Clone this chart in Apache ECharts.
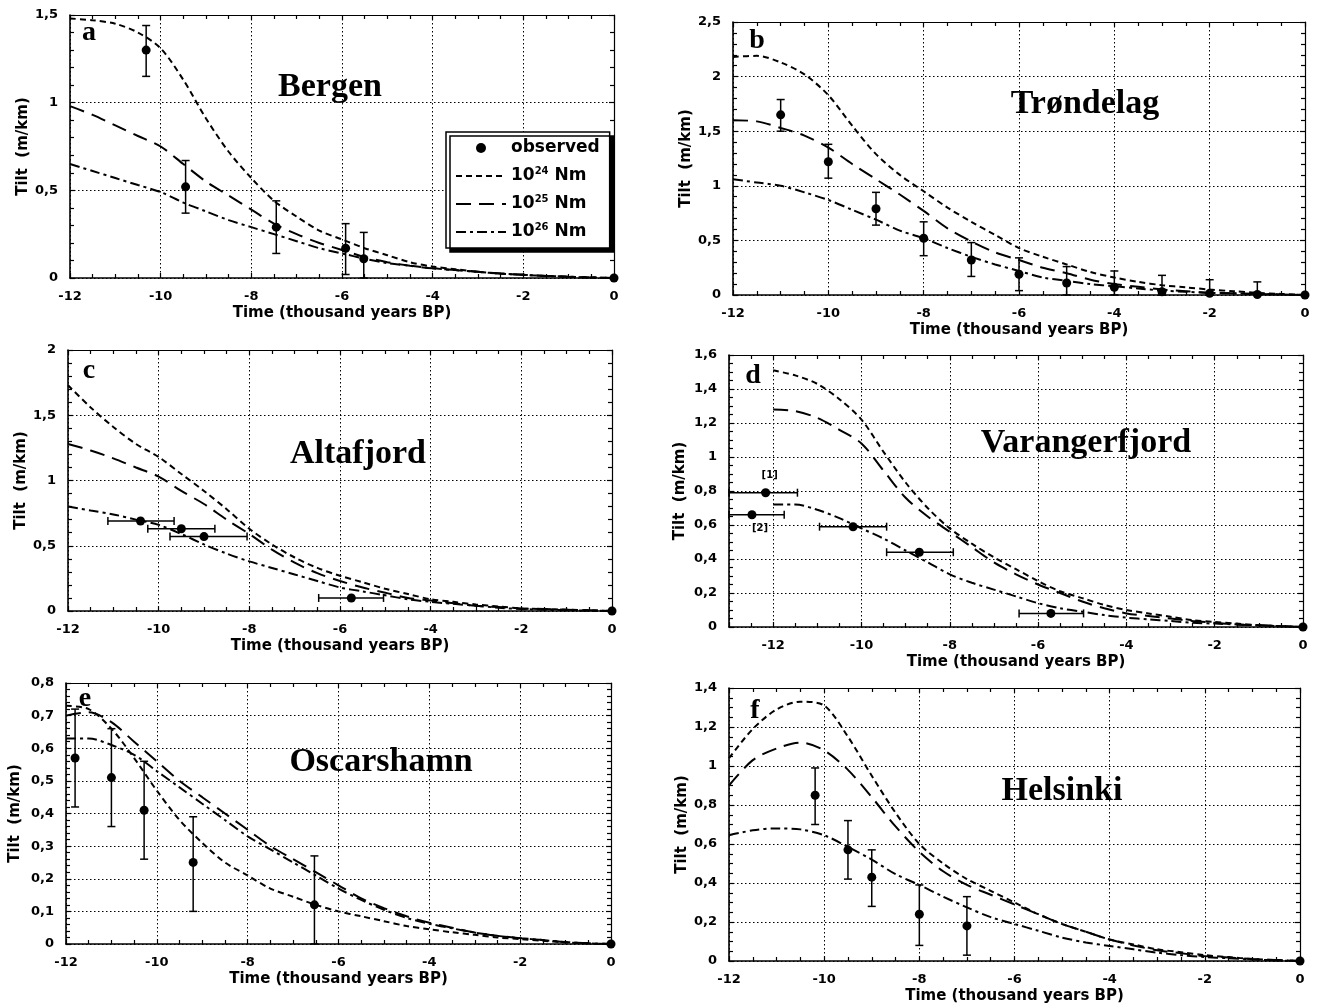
<!DOCTYPE html>
<html>
<head>
<meta charset="utf-8">
<title>Shoreline tilt: observed vs. model lithosphere rigidity</title>
<script src="https://cdn.jsdelivr.net/npm/echarts@6/dist/echarts.min.js"></script>
<style>
  html, body { margin: 0; padding: 0; background: #fff; }
  #chart { width: 1318px; height: 1008px; }
</style>
</head>
<body>
<div id="chart"></div>
<script>
// Model output sampled every 500 years (time in thousand years BP)
const TIME = [-12, -11.5, -11, -10.5, -10, -9.5, -9, -8.5, -8, -7.5, -7, -6.5, -6,
              -5.5, -5, -4.5, -4, -3.5, -3, -2.5, -2, -1.5, -1, -0.5, 0];

// Predicted tilt (m/km) for flexural rigidities 10^24, 10^25, 10^26 Nm
const BERGEN_24 = [1.48,1.47,1.45,1.40,1.31,1.13,0.91,0.72,0.57,0.44,0.35,0.27,0.22,0.17,0.13,0.09,0.065,0.05,0.035,0.025,0.018,0.012,0.007,0.003,0];
const BERGEN_25 = [0.98,0.93,0.87,0.81,0.75,0.65,0.55,0.47,0.39,0.31,0.25,0.20,0.16,0.12,0.09,0.07,0.055,0.045,0.035,0.025,0.018,0.012,0.007,0.003,0];
const BERGEN_26 = [0.65,0.61,0.57,0.53,0.49,0.43,0.38,0.33,0.29,0.25,0.21,0.17,0.14,0.11,0.085,0.07,0.055,0.045,0.035,0.025,0.018,0.012,0.007,0.003,0];

const TRONDELAG_24 = [2.18,2.19,2.13,2.02,1.83,1.55,1.29,1.10,0.95,0.80,0.67,0.55,0.43,0.35,0.28,0.21,0.16,0.12,0.09,0.07,0.05,0.035,0.02,0.01,0];
const TRONDELAG_25 = [1.60,1.59,1.53,1.46,1.35,1.20,1.06,0.92,0.77,0.61,0.49,0.39,0.32,0.25,0.20,0.14,0.10,0.075,0.05,0.035,0.02,0.015,0.01,0.005,0];
const TRONDELAG_26 = [1.06,1.03,1.00,0.94,0.87,0.78,0.69,0.59,0.52,0.43,0.35,0.28,0.22,0.16,0.13,0.10,0.08,0.06,0.04,0.03,0.02,0.015,0.01,0.005,0];

const ALTA_24 = [1.73,1.56,1.41,1.28,1.18,1.05,0.92,0.78,0.63,0.51,0.41,0.33,0.27,0.22,0.17,0.13,0.09,0.07,0.05,0.035,0.02,0.015,0.01,0.005,0];
const ALTA_25 = [1.28,1.23,1.17,1.10,1.03,0.92,0.82,0.70,0.59,0.47,0.37,0.29,0.23,0.18,0.14,0.10,0.08,0.06,0.04,0.03,0.02,0.015,0.01,0.005,0];
const ALTA_26 = [0.80,0.77,0.74,0.70,0.66,0.59,0.51,0.44,0.38,0.33,0.28,0.23,0.18,0.15,0.12,0.09,0.07,0.055,0.04,0.025,0.015,0.01,0.005,0.003,0];

const VARANGER_24 = [1.51,1.48,1.43,1.34,1.22,1.03,0.85,0.70,0.58,0.49,0.41,0.34,0.27,0.21,0.17,0.13,0.10,0.08,0.06,0.04,0.03,0.02,0.01,0.005,0];
const VARANGER_25 = [1.28,1.27,1.23,1.16,1.08,0.92,0.76,0.65,0.56,0.47,0.38,0.31,0.25,0.20,0.15,0.11,0.08,0.065,0.05,0.035,0.025,0.015,0.01,0.005,0];
const VARANGER_26 = [0.72,0.72,0.69,0.64,0.58,0.52,0.45,0.38,0.31,0.26,0.22,0.18,0.14,0.11,0.09,0.07,0.055,0.045,0.035,0.025,0.02,0.015,0.01,0.005,0];

const OSCARSHAMN_24 = [0.73,0.72,0.66,0.57,0.47,0.38,0.31,0.25,0.21,0.17,0.145,0.12,0.10,0.085,0.07,0.055,0.045,0.036,0.028,0.02,0.015,0.01,0.005,0.002,0];
const OSCARSHAMN_25 = [0.70,0.71,0.68,0.62,0.56,0.50,0.45,0.40,0.35,0.30,0.26,0.22,0.18,0.14,0.11,0.085,0.065,0.05,0.035,0.025,0.018,0.012,0.006,0.002,0];
const OSCARSHAMN_26 = [0.63,0.63,0.61,0.58,0.53,0.48,0.43,0.38,0.33,0.29,0.25,0.21,0.17,0.135,0.105,0.08,0.062,0.048,0.035,0.025,0.018,0.012,0.006,0.002,0];

const HELSINKI_24 = [1.04,1.19,1.29,1.33,1.31,1.15,0.95,0.76,0.60,0.50,0.42,0.36,0.30,0.24,0.19,0.15,0.11,0.085,0.06,0.045,0.03,0.02,0.01,0.005,0];
const HELSINKI_25 = [0.90,1.03,1.09,1.12,1.08,0.98,0.84,0.69,0.56,0.46,0.39,0.34,0.29,0.24,0.19,0.15,0.11,0.08,0.055,0.04,0.025,0.018,0.01,0.005,0];
const HELSINKI_26 = [0.645,0.67,0.68,0.675,0.645,0.585,0.52,0.445,0.39,0.33,0.275,0.225,0.19,0.155,0.12,0.095,0.077,0.06,0.043,0.03,0.02,0.014,0.008,0.003,0];

// Observed tilt: [time, tilt, low, high] — low/high are the tilt range (vertical bars)
const BERGEN_OBS = [[-10.32,1.30,1.15,1.44],[-9.45,0.52,0.37,0.67],[-7.45,0.29,0.14,0.44],[-5.92,0.17,0.02,0.31],[-5.52,0.11,0,0.26]];
const TRONDELAG_OBS = [[-11,1.65,1.50,1.79],[-10,1.22,1.07,1.38],[-9,0.79,0.64,0.94],[-8,0.52,0.36,0.67],[-7,0.32,0.17,0.48],
                       [-6,0.19,0.04,0.34],[-5,0.11,0,0.26],[-4,0.07,0,0.22],[-3,0.03,0,0.18],[-2,0.015,0,0.14],[-1,0.005,0,0.12]];
const OSCARSHAMN_OBS = [[-11.8,0.57,0.42,0.72],[-11.0,0.51,0.36,0.66],[-10.28,0.41,0.26,0.56],[-9.2,0.25,0.10,0.39],[-6.53,0.12,0,0.27]];
const HELSINKI_OBS = [[-10.19,0.85,0.70,0.99],[-9.5,0.57,0.42,0.72],[-9.0,0.43,0.28,0.57],[-8.0,0.24,0.08,0.39],[-7.0,0.18,0.03,0.33]];
// Observed tilt with age uncertainty: [time, tilt, earliest, latest] (horizontal bars)
const ALTA_OBS = [[-10.4,0.69,-11.12,-9.66],[-9.5,0.63,-10.24,-8.76],[-9.0,0.57,-9.75,-8.05],[-5.75,0.10,-6.47,-5.04]];
const VARANGER_OBS = [[-12.17,0.79,-13.0,-11.45],[-12.48,0.66,-13.0,-11.75],[-10.19,0.59,-10.95,-9.43],[-8.69,0.44,-9.43,-7.92],[-5.71,0.08,-6.43,-4.97]];
// Present day: tilt relative to today is zero
const PRESENT = [0, 0];
// Shoreline labels in Varangerfjord
const VARANGER_TAGS = ['[1]', '[2]'];

const MODEL_NAMES = ['10^24 Nm', '10^25 Nm', '10^26 Nm'];
const OBS_NAME = 'observed';

const SANS = '"DejaVu Sans", "Liberation Sans", Arial, sans-serif';
const SERIF = '"Liberation Serif", "Times New Roman", serif';
const DASHES = [[6, 4], [15, 8], [10, 4, 3, 4]];

// Panel layout (pixel boxes) and references to the data above
const panels = [
  { letter: 'a', site: 'Bergen', curves: [BERGEN_24, BERGEN_25, BERGEN_26], obs: BERGEN_OBS, bars: 'v',
    xMin: -12, yMax: 1.5, yStep: 0.5, yMinor: 5, box: [70, 15, 544, 263], yGap: 35,
    letterAt: [89, 33], siteAt: [330, 87] },
  { letter: 'b', site: 'Trøndelag', curves: [TRONDELAG_24, TRONDELAG_25, TRONDELAG_26], obs: TRONDELAG_OBS, bars: 'v',
    xMin: -12, yMax: 2.5, yStep: 0.5, yMinor: 5, box: [733, 22, 572, 273], yGap: 37,
    letterAt: [757, 41], siteAt: [1085, 104] },
  { letter: 'c', site: 'Altafjord', curves: [ALTA_24, ALTA_25, ALTA_26], obs: ALTA_OBS, bars: 'h',
    xMin: -12, yMax: 2, yStep: 0.5, yMinor: 5, box: [68, 350, 544, 261], yGap: 34,
    letterAt: [89, 371], siteAt: [358, 454] },
  { letter: 'd', site: 'Varangerfjord', curves: [VARANGER_24, VARANGER_25, VARANGER_26], obs: VARANGER_OBS, bars: 'h',
    xMin: -13, yMax: 1.6, yStep: 0.2, yMinor: 4, box: [729, 355, 574, 272], yGap: 41,
    letterAt: [753, 376], siteAt: [1086, 443], tags: VARANGER_TAGS },
  { letter: 'e', site: 'Oscarshamn', curves: [OSCARSHAMN_24, OSCARSHAMN_25, OSCARSHAMN_26], obs: OSCARSHAMN_OBS, bars: 'v',
    xMin: -12, yMax: 0.8, yStep: 0.1, yMinor: 5, box: [66, 683, 545, 261], yGap: 43,
    letterAt: [85, 699], siteAt: [381, 762] },
  { letter: 'f', site: 'Helsinki', curves: [HELSINKI_24, HELSINKI_25, HELSINKI_26], obs: HELSINKI_OBS, bars: 'v',
    xMin: -12, yMax: 1.4, yStep: 0.2, yMinor: 4, box: [729, 688, 571, 273], yGap: 38,
    letterAt: [755, 711], siteAt: [1062, 791] }
];

const black = '#000';
const tickLabel = { color: black, fontFamily: SANS, fontWeight: 'bold', fontSize: 13 };
const nameStyle = { color: black, fontFamily: SANS, fontWeight: 'bold', fontSize: 15 };
const gridDots = { show: true, lineStyle: { color: black, width: 1, type: [1.5, 2.5] } };

const grids = [], xAxes = [], yAxes = [], series = [], graphics = [];

function commaDecimal(v) {
  return String(parseFloat(v.toFixed(2))).replace('.', ',');
}

function errorBar(dir) {
  return function (params, api) {
    const x = api.value(0), y = api.value(1), a = api.value(2), b = api.value(3);
    const p1 = dir === 'v' ? api.coord([x, a]) : api.coord([a, y]);
    const p2 = dir === 'v' ? api.coord([x, b]) : api.coord([b, y]);
    const c = 4;
    const st = { stroke: black, lineWidth: 1.5 };
    const cap = (p) => dir === 'v'
      ? { type: 'line', shape: { x1: p[0] - c, y1: p[1], x2: p[0] + c, y2: p[1] }, style: st }
      : { type: 'line', shape: { x1: p[0], y1: p[1] - c, x2: p[0], y2: p[1] + c }, style: st };
    return {
      type: 'group',
      children: [
        { type: 'line', shape: { x1: p1[0], y1: p1[1], x2: p2[0], y2: p2[1] }, style: st },
        cap(p1), cap(p2)
      ]
    };
  };
}

panels.forEach((p, i) => {
  const [left, top, width, height] = p.box;
  grids.push({ left, top, width, height, containLabel: false });

  const evenMin = p.xMin % 2 === 0;
  const xCommon = {
    gridIndex: i, type: 'value', min: p.xMin, max: 0,
    axisLine: { onZero: false, lineStyle: { color: black, width: 1.6 } },
    axisTick: { inside: true, length: 5, lineStyle: { color: black, width: 1.2 } },
    minorTick: { show: true, splitNumber: 4, length: 4, lineStyle: { color: black, width: 1.2 } }
  };
  if (evenMin) xCommon.interval = 2; else xCommon.splitNumber = 6;
  xAxes.push(Object.assign({}, xCommon, {
    position: 'bottom',
    axisLabel: Object.assign({ margin: 12, showMinLabel: evenMin }, tickLabel),
    splitLine: gridDots,
    name: 'Time (thousand years BP)', nameLocation: 'middle', nameGap: 28, nameTextStyle: nameStyle
  }));
  xAxes.push(Object.assign({}, xCommon, {
    position: 'top', axisLabel: { show: false }, splitLine: { show: false },
    axisLine: { onZero: false, lineStyle: { color: black, width: 1.2 } }
  }));

  const yCommon = {
    gridIndex: i, type: 'value', min: 0, max: p.yMax, interval: p.yStep,
    axisTick: { inside: true, length: 5, lineStyle: { color: black, width: 1.2 } },
    minorTick: { show: true, splitNumber: p.yMinor, length: 4, lineStyle: { color: black, width: 1.2 } }
  };
  yAxes.push(Object.assign({}, yCommon, {
    position: 'left',
    axisLine: { show: true, onZero: false, lineStyle: { color: black, width: 1.6 } },
    axisLabel: Object.assign({ margin: 12, formatter: commaDecimal }, tickLabel),
    splitLine: gridDots,
    name: 'Tilt  (m/km)', nameLocation: 'middle', nameGap: p.yGap, nameRotate: 90, nameTextStyle: nameStyle
  }));
  yAxes.push(Object.assign({}, yCommon, {
    position: 'right',
    axisLine: { show: true, onZero: false, lineStyle: { color: black, width: 1.2 } },
    axisLabel: { show: false }, splitLine: { show: false }
  }));

  // model curves
  p.curves.forEach((vals, k) => {
    series.push({
      name: MODEL_NAMES[k], type: 'line', xAxisIndex: 2 * i, yAxisIndex: 2 * i,
      data: TIME.map((t, j) => [t, vals[j]]),
      smooth: 0.3, symbol: 'none', clip: true, z: 3,
      lineStyle: { color: black, width: 2, type: DASHES[k] },
      itemStyle: { color: black }
    });
  });

  // uncertainty bars
  series.push({
    name: OBS_NAME + ' range', type: 'custom', xAxisIndex: 2 * i, yAxisIndex: 2 * i,
    data: p.obs, renderItem: errorBar(p.bars), z: 4, clip: false,
    encode: p.bars === 'v' ? { x: 0, y: [1, 2, 3] } : { x: [0, 2, 3], y: 1 },
    silent: true
  });

  // observed points
  const pts = p.obs.map((o, j) => {
    const item = { value: [o[0], o[1]] };
    if (p.tags && j < p.tags.length) {
      item.label = {
        show: true, formatter: p.tags[j], color: black, fontFamily: SANS, fontWeight: 'bold', fontSize: 10,
        position: j === 0 ? 'top' : 'bottom', distance: j === 0 ? 8 : 6, offset: j === 0 ? [4, 0] : [8, -2]
      };
    }
    return item;
  });
  pts.push({ value: PRESENT.slice() });
  series.push({
    name: OBS_NAME, type: 'scatter', xAxisIndex: 2 * i, yAxisIndex: 2 * i,
    data: pts, symbol: 'circle', symbolSize: 9, clip: false, z: 5,
    itemStyle: { color: black, opacity: 1 }
  });

  graphics.push({
    type: 'text', x: p.letterAt[0], y: p.letterAt[1], z: 10,
    style: { text: p.letter, fill: black, font: 'bold 28px ' + SERIF, textAlign: 'center', textVerticalAlign: 'middle' }
  });
  graphics.push({
    type: 'text', x: p.siteAt[0], y: p.siteAt[1], z: 10,
    style: { text: p.site, fill: black, font: 'bold 34px ' + SERIF, textAlign: 'center', textVerticalAlign: 'middle' }
  });
});

const chart = echarts.init(document.getElementById('chart'), null, { renderer: 'canvas' });
chart.setOption({
  backgroundColor: '#fff',
  animation: false,
  grid: grids,
  xAxis: xAxes,
  yAxis: yAxes,
  series: series,
  graphic: graphics,
  legend: {
    data: [{ name: OBS_NAME }].concat(MODEL_NAMES.map((n) => ({ name: n, itemStyle: { opacity: 0 } }))),
    orient: 'vertical', left: 446, top: 132,
    itemWidth: 50, itemHeight: 10, itemGap: 8,
    padding: [6, 10, 6, 9],
    selectedMode: false,
    backgroundColor: '#fff', borderColor: black, borderWidth: 1.5,
    shadowColor: black, shadowBlur: 0, shadowOffsetX: 4, shadowOffsetY: 4,
    textStyle: {
      color: black, fontFamily: SANS, fontWeight: 'bold', fontSize: 17, lineHeight: 20,
      rich: { sup: { fontFamily: SANS, fontWeight: 'bold', fontSize: 10, lineHeight: 10, verticalAlign: 'top', color: black } }
    },
    formatter: (n) => n === OBS_NAME ? n : '10{sup|' + n.slice(3, 5) + '} Nm'
  }
});
</script>
</body>
</html>
